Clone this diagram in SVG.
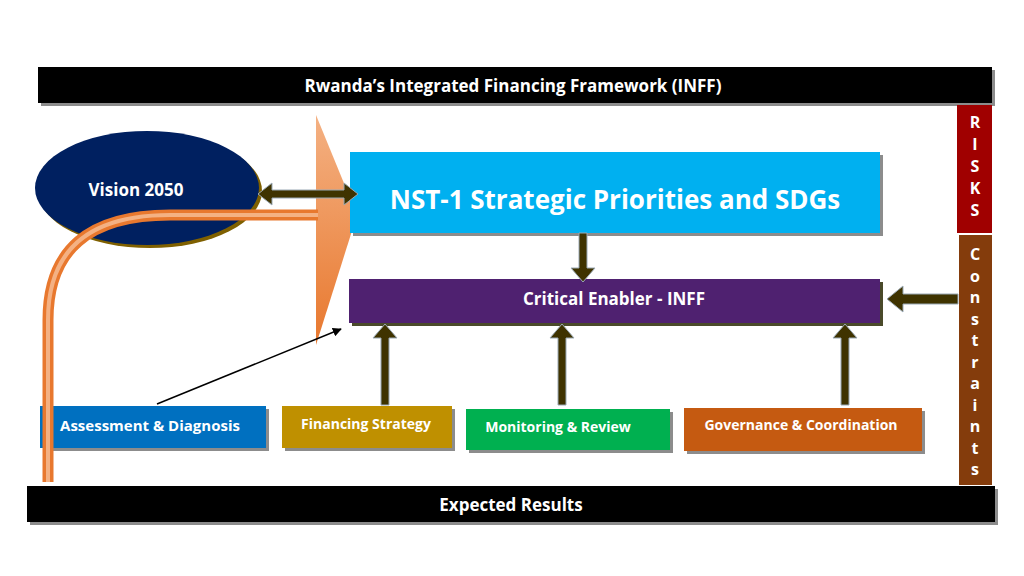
<svg xmlns="http://www.w3.org/2000/svg" width="1024" height="576" viewBox="0 0 1024 576">
<defs>
<style>
text{font-family:"Open Sans","DejaVu Sans",sans-serif;fill:#fff;font-weight:bold}
.sh{fill:#8c8c8c}
.fat{fill:#3F3300;stroke:#9aa9b5;stroke-width:1}
</style>
<linearGradient id="og" x1="0" y1="0" x2="0" y2="1"><stop offset="0" stop-color="#F4B183"/><stop offset="1" stop-color="#E8782E"/></linearGradient>
<linearGradient id="ob" x1="0" y1="0" x2="1" y2="0"><stop offset="0" stop-color="#E8782E"/><stop offset="0.5" stop-color="#F4B183"/><stop offset="1" stop-color="#E8782E"/></linearGradient>
<marker id="ah" viewBox="0 0 10 10" refX="9" refY="5" markerWidth="9" markerHeight="9" orient="auto" markerUnits="userSpaceOnUse"><path d="M0,0 L10,5 L0,10z" fill="#000"/></marker>
</defs>
<rect width="1024" height="576" fill="#fff"/>
<g id="title"><rect x="41" y="70" width="954" height="36" class="sh"/><rect x="38" y="67" width="954" height="36" fill="#000"/><text x="513" y="92" text-anchor="middle" font-size="17">Rwanda’s Integrated Financing Framework (INFF)</text></g>
<g id="results"><rect x="30" y="489" width="968" height="36" class="sh"/><rect x="27" y="486" width="968" height="36" fill="#000"/><text x="511" y="511" text-anchor="middle" font-size="17">Expected Results</text></g>
<g id="risks"><rect x="957" y="105" width="35" height="128" fill="#A00000"/><text x="975" y="128" text-anchor="middle" font-size="16"><tspan x="975">R</tspan><tspan x="975" dy="22">I</tspan><tspan x="975" dy="22">S</tspan><tspan x="975" dy="22">K</tspan><tspan x="975" dy="22">S</tspan></text></g>
<g id="constraints"><rect x="959" y="235" width="33" height="250" fill="#843C0C"/><text x="975" y="260" text-anchor="middle" font-size="16"><tspan x="975">C</tspan><tspan x="975" dy="21.5">o</tspan><tspan x="975" dy="21.5">n</tspan><tspan x="975" dy="21.5">s</tspan><tspan x="975" dy="21.5">t</tspan><tspan x="975" dy="21.5">r</tspan><tspan x="975" dy="21.5">a</tspan><tspan x="975" dy="21.5">i</tspan><tspan x="975" dy="21.5">n</tspan><tspan x="975" dy="21.5">t</tspan><tspan x="975" dy="21.5">s</tspan></text></g>
<g id="vision"><ellipse cx="150" cy="191" rx="112" ry="57" fill="#7F6000"/><ellipse cx="147" cy="188" rx="112" ry="57" fill="#002060"/><text x="136" y="196" text-anchor="middle" font-size="17">Vision 2050</text></g>
<g id="bigarrow"><polygon points="316,115 357,215 316,345" fill="url(#og)"/></g>
<g id="nst"><rect x="353" y="155" width="530" height="81" class="sh"/><rect x="350" y="152" width="530" height="81" fill="#00B0F0"/><text x="615" y="209" text-anchor="middle" font-size="26">NST-1 Strategic Priorities and SDGs</text></g>
<g id="enabler"><rect x="352" y="282" width="531" height="44" fill="#4a4a2a"/><rect x="349" y="279" width="531" height="44" fill="#4F2170"/><text x="614" y="305" text-anchor="middle" font-size="17">Critical Enabler - INFF</text></g>
<g id="assess"><rect x="43" y="409" width="226" height="42" class="sh"/><rect x="40" y="406" width="226" height="42" fill="#0070C0"/><text x="150" y="431" text-anchor="middle" font-size="15">Assessment &amp; Diagnosis</text></g>
<g id="fin"><rect x="285" y="409" width="170" height="42" class="sh"/><rect x="282" y="406" width="170" height="42" fill="#BF9000"/><text x="366" y="429" text-anchor="middle" font-size="14">Financing Strategy</text></g>
<g id="mon"><rect x="469" y="412" width="204" height="41" class="sh"/><rect x="466" y="409" width="204" height="41" fill="#00B050"/><text x="558" y="432" text-anchor="middle" font-size="14">Monitoring &amp; Review</text></g>
<g id="gov"><rect x="687" y="411" width="238" height="43" class="sh"/><rect x="684" y="408" width="238" height="43" fill="#C55A11"/><text x="801" y="430" text-anchor="middle" font-size="14">Governance &amp; Coordination</text></g>
<g id="connectors">
<path d="M48,482 V320 Q48,215 170,215 H318" fill="none" stroke="#E8782E" stroke-width="11"/>
<path d="M48,482 V320 Q48,215 170,215 H318" fill="none" stroke="#F4B183" stroke-width="4"/>
<polygon class="fat" points="258,194 272,183 272,190 344,190 344,183 358,194 344,205 344,198 272,198 272,205"/>
<polygon class="fat" points="579,233 587,233 587,268 595,268 583,282 571,268 579,268"/>
<polygon class="fat" points="958,294 903,294 903,286 887,299 903,312 903,304 958,304"/>
<polygon class="fat" points="381,405 389,405 389,338 397,338 385,324 373,338 381,338"/>
<polygon class="fat" points="558,405 566,405 566,338 574,338 562,324 550,338 558,338"/>
<polygon class="fat" points="841,405 849,405 849,338 857,338 845,324 833,338 841,338"/>
<line x1="157" y1="404" x2="341" y2="329" stroke="#000" stroke-width="1.5" marker-end="url(#ah)"/>
</g>
</svg>
